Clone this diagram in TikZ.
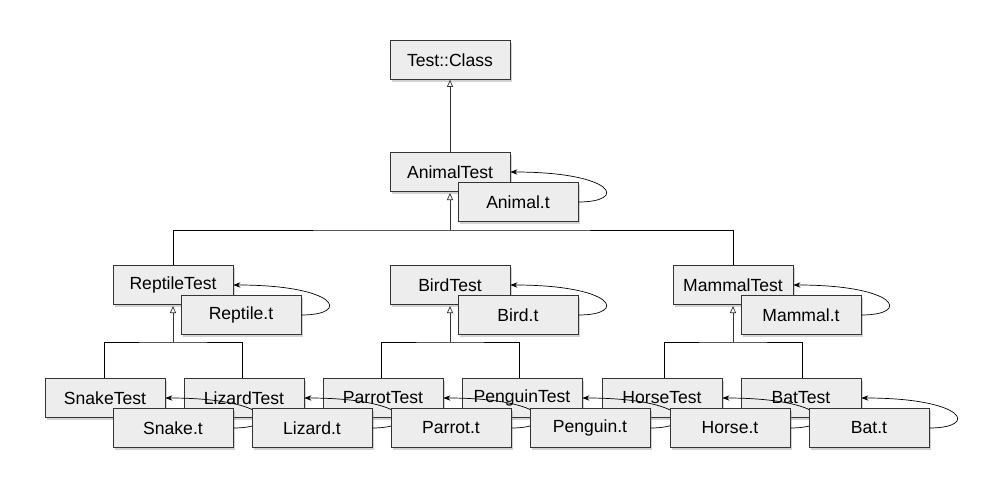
\documentclass[tikz,border=0pt]{standalone}
\usepackage{fontspec}
\setmainfont{Liberation Sans}
\usetikzlibrary{shadows,arrows.meta}

\tikzset{
  box/.style={draw=black!80, fill=black!7, minimum width=2.4cm, minimum height=0.78cm,
    inner sep=0pt, font=\fontsize{10}{12}\selectfont,
    drop shadow={shadow xshift=1.2pt, shadow yshift=-1.2pt, opacity=0.35}},
  isa/.style={-{Triangle[open,length=4pt,width=3.5pt]}, black!80},
  uses/.style={-{Stealth[length=4pt,width=3pt]}, black}
}

\begin{document}
\begin{tikzpicture}[x=0.02cm, y=-0.02cm]
  \useasboundingbox (0,0) rectangle (1000,490);

  % test classes
  \node[box] (class) at (450,60) {Test::Class};
  \node[box] (animal) at (450,172) {AnimalTest};

  % hierarchy lines
  \coordinate (top) at (450,230);
  \draw (173,266) |- (top) -| (733,266);
  \draw[isa] (top) -- (450,193);
  \draw[isa] (animal) -- (class);
  \foreach \x in {173,450,733} {
    \coordinate (mid\x) at (\x,342);
    \draw (\x-69,379) |- (mid\x) -| (\x+69,379);
    \draw[isa] (mid\x) -- (\x,306);
  }

  \node[box] (reptile) at (173,285) {ReptileTest};
  \node[box] (bird) at (450,285) {BirdTest};
  \node[box] (mammal) at (733,285) {MammalTest};
  \foreach \n/\x in {snake/105,lizard/244,parrot/383,penguin/522,horse/662,bat/801}
    \node[box] (\n) at (\x,398) {};
  \node at (snake) {SnakeTest};
  \node at (lizard) {LizardTest};
  \node at (parrot) {ParrotTest};
  \node at (penguin) {PenguinTest};
  \node at (horse) {HorseTest};
  \node at (bat) {BatTest};

  % test files with loops
  \foreach \n/\t in {animal/Animal,reptile/Reptile,bird/Bird,mammal/Mammal,
                     snake/Snake,lizard/Lizard,parrot/Parrot,penguin/Penguin,horse/Horse,bat/Bat} {
    \node[box, font=\fontsize{10}{12}\selectfont] (\n t) at ([xshift=1.36cm, yshift=-0.6cm]\n) {\t.t};
    \draw[uses] (\n t.east) .. controls +(1.0cm,0) and +(2.1cm,0) .. (\n.east);
  }
\end{tikzpicture}
\end{document}
